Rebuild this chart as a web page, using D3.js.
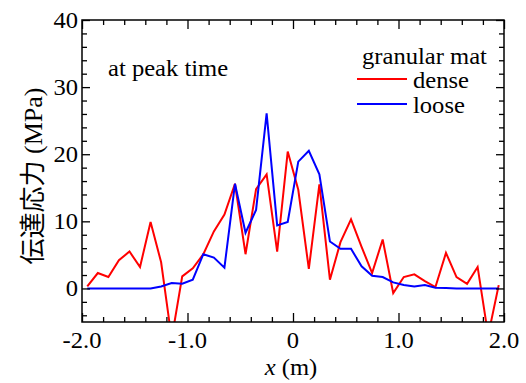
<!DOCTYPE html>
<html>
<head>
<meta charset="utf-8">
<script src="https://cdn.jsdelivr.net/npm/d3@7"></script>
<style>
  body { margin: 0; background: #fff; }
</style>
</head>
<body>
<svg id="chart" width="526" height="383"></svg>
<script>
// positions along the mat (m)
var xPos = [-1.95, -1.85, -1.75, -1.65, -1.55, -1.45, -1.35, -1.25, -1.15, -1.05,
            -0.95, -0.85, -0.75, -0.65, -0.55, -0.45, -0.35, -0.25, -0.15, -0.05,
             0.05,  0.15,  0.25,  0.35,  0.45,  0.55,  0.65,  0.75,  0.85,  0.95,
             1.05,  1.15,  1.25,  1.35,  1.45,  1.55,  1.65,  1.75,  1.85,  1.95];

// transmitted stress (MPa)
var dense = [0.3, 2.3, 1.7, 4.2, 5.5, 3.2, 9.9, 3.9, -7.5, 1.8,
             3.0, 5.1, 8.5, 11.0, 15.6, 5.1, 14.8, 17.0, 5.5, 20.4,
             14.7, 2.9, 15.5, 1.3, 6.9, 10.3, 6.2, 2.3, 7.3, -0.7,
             1.7, 2.1, 1.1, 0.2, 5.3, 1.7, 0.7, 3.2, -7.0, 0.5];
var loose = [0, 0, 0, 0, 0, 0, 0, 0.3, 0.8, 0.7,
             1.3, 5.1, 4.6, 3.1, 15.6, 8.3, 11.7, 26.1, 9.4, 9.9,
             18.9, 20.5, 17.0, 7.0, 5.9, 5.9, 3.3, 1.9, 1.7, 0.9,
             0.5, 0.3, 0.5, 0.1, 0.05, 0, 0, 0, 0, 0];

var seriesNames = ["dense", "loose"];
var xTicks = [-2, -1, 0, 1, 2];
var xTickLabels = ["-2.0", "-1.0", "0", "1.0", "2.0"];
var yTicks = [0, 10, 20, 30, 40];
var yTickLabels = ["0", "10", "20", "30", "40"];

var plot = {left: 82, right: 504, top: 20, bottom: 322};
var serif = "'Liberation Serif', 'Times New Roman', Times, serif";
var fontSize = 23,
    stretch = 1.07;   // glyphs in the original are a little wider than Times

var svg = d3.select("#chart")
    .attr("font-family", serif);

var x = d3.scaleLinear().domain([-2, 2]).range([plot.left, plot.right]);
var y = d3.scaleLinear().domain([-5, 40]).range([plot.bottom, plot.top]);

var color = d3.scaleOrdinal()
    .domain(seriesNames)
    .range(["#ff0000", "#0000ff"]);

svg.append("clipPath").attr("id", "plotclip")
  .append("rect")
    .attr("x", plot.left).attr("y", plot.top)
    .attr("width", plot.right - plot.left).attr("height", plot.bottom - plot.top);

// data lines
var line = d3.line()
    .x(function(d) { return x(d[0]); })
    .y(function(d) { return y(d[1]); });

var series = [dense, loose];
series.forEach(function(vals, i) {
  svg.append("path")
    .datum(d3.zip(xPos, vals))
    .attr("clip-path", "url(#plotclip)")
    .attr("fill", "none")
    .attr("stroke", color(seriesNames[i]))
    .attr("stroke-width", 2)
    .attr("d", line);
});

// inward ticks on all four sides
var xMinor = d3.range(-2, 2.001, 0.2).filter(function(v) { return Math.abs(v - Math.round(v)) > 0.01; });
var yMinor = d3.range(-4, 40.001, 2).filter(function(v) { return v % 10 !== 0; });

function ticks(axisGen, tx, ty) {
  svg.append("g")
    .attr("transform", "translate(" + tx + "," + ty + ")")
    .call(axisGen)
    .call(function(g) {
      g.select(".domain").remove();
      g.selectAll("line").attr("stroke", "#000").attr("stroke-width", 1.3);
    });
}
ticks(d3.axisRight(y).tickValues(yMinor).tickSize(5).tickFormat(""), plot.left, 0);
ticks(d3.axisRight(y).tickValues(yTicks).tickSize(8).tickFormat(""), plot.left, 0);
ticks(d3.axisLeft(y).tickValues(yMinor).tickSize(5).tickFormat(""), plot.right, 0);
ticks(d3.axisLeft(y).tickValues(yTicks).tickSize(8).tickFormat(""), plot.right, 0);
ticks(d3.axisTop(x).tickValues(xMinor).tickSize(5).tickFormat(""), 0, plot.bottom);
ticks(d3.axisTop(x).tickValues(xTicks).tickSize(9).tickFormat(""), 0, plot.bottom);
ticks(d3.axisBottom(x).tickValues(xMinor).tickSize(5).tickFormat(""), 0, plot.top);
ticks(d3.axisBottom(x).tickValues(xTicks).tickSize(9).tickFormat(""), 0, plot.top);

svg.append("rect")
    .attr("x", plot.left).attr("y", plot.top)
    .attr("width", plot.right - plot.left).attr("height", plot.bottom - plot.top)
    .attr("fill", "none")
    .attr("stroke", "#000")
    .attr("stroke-width", 1.5);

function label(px, py, str, anchor) {
  return svg.append("text")
    .attr("transform", "translate(" + px + "," + py + ") scale(" + stretch + ",1)")
    .attr("text-anchor", anchor)
    .attr("font-family", serif)
    .attr("font-size", fontSize)
    .attr("fill", "#000")
    .text(str);
}

// tick labels
yTicks.forEach(function(v, i) { label(78, y(v) + 8, yTickLabels[i], "end"); });
xTicks.forEach(function(v, i) { label(x(v), 348, xTickLabels[i], "middle"); });

// axis titles
var xt = label(291, 375, "", "middle");
xt.append("tspan").attr("font-style", "italic").text("x");
xt.append("tspan").text(" (m)");

var yt = svg.append("text")
    .attr("transform", "translate(42,176) rotate(-90)")
    .attr("text-anchor", "middle")
    .attr("font-family", serif);
yt.append("tspan").attr("font-family", "'Noto Sans CJK JP'").attr("font-size", 26).text("伝達応力");
yt.append("tspan").attr("font-size", 26).text(" (MPa)");

label(108, 76, "at peak time", "start");

// legend
label(362, 64, "granular mat", "start");
var legend = svg.selectAll(".legend")
    .data(seriesNames)
  .enter()
    .append("g")
    .attr("class", "legend")
    .attr("transform", function(d, i) { return "translate(357," + (79 + i * 25) + ")"; });

legend.append("line")
    .attr("x1", 0).attr("x2", 50)
    .attr("stroke", color)
    .attr("stroke-width", 2);

legend.each(function(d) {
  d3.select(this).append("text")
    .attr("transform", "translate(56,9) scale(" + stretch + ",1)")
    .attr("font-family", serif)
    .attr("font-size", fontSize)
    .text(d);
});
</script>
</body>
</html>
